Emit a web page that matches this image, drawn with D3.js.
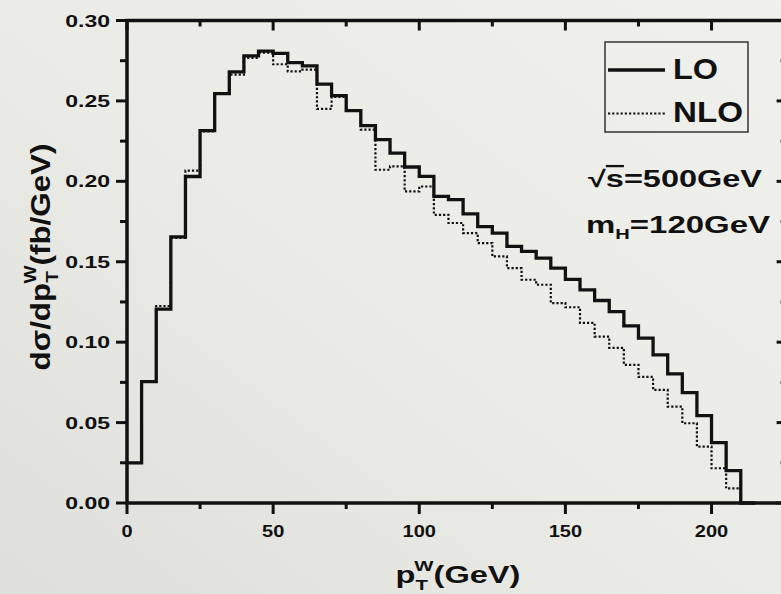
<!DOCTYPE html>
<html>
<head>
<meta charset="utf-8">
<script src="https://cdn.jsdelivr.net/npm/d3@7"></script>
<style>
  html, body { margin: 0; padding: 0; background: #ebebe5; }
  svg { display: block; }
  text { font-family: "Liberation Sans", Arial, sans-serif; font-weight: bold; fill: #111; }
</style>
</head>
<body>
<svg id="chart" width="781" height="594"></svg>
<script>
// ---------------- data ----------------
// lower bin edges (GeV), plus the final upper edge
const binEdges = [0,5,10,15,20,25,30,35,40,45,50,55,60,65,70,75,80,85,90,95,100,
  105,110,115,120,125,130,135,140,145,150,155,160,165,170,175,180,185,190,195,200,205,210,215];
const loValues = [0.025,0.0755,0.1205,0.1655,0.203,0.2315,0.2545,0.268,0.278,0.281,
  0.2795,0.2738,0.2718,0.2605,0.2533,0.244,0.2346,0.2259,0.2176,0.2089,
  0.2031,0.1906,0.1886,0.1798,0.1719,0.1678,0.1595,0.1564,0.1523,0.146,
  0.139,0.1325,0.1259,0.119,0.1101,0.1025,0.0921,0.0803,0.0686,0.0543,
  0.0375,0.0201,0];
const nloValues = [0.025,0.0755,0.1225,0.1648,0.2066,0.231,0.2545,0.2663,0.2767,0.28,
  0.2728,0.2684,0.2694,0.245,0.2525,0.244,0.2321,0.2072,0.2093,0.1937,
  0.1968,0.1792,0.1741,0.1678,0.1616,0.1533,0.146,0.1388,0.1357,0.1243,
  0.1217,0.112,0.1035,0.0965,0.0859,0.0784,0.0703,0.0599,0.0496,0.035,
  0.0216,0.0091,0];
const xMajorTicks = [0,50,100,150,200];
const xMinorTicks = [25,75,125,175];
const xTickLabels = ["0","50","100","150","200"];
const yMajorTicks = [0,0.05,0.10,0.15,0.20,0.25,0.30];
const yMinorTicks = [0.025,0.075,0.125,0.175,0.225,0.275];
const yTickLabels = ["0.00","0.05","0.10","0.15","0.20","0.25","0.30"];
const seriesNames = ["LO","NLO"];

// ---------------- layout ----------------
const svg = d3.select("#chart");
const x = d3.scaleLinear().domain([0,225]).range([127,784.6]);
const y = d3.scaleLinear().domain([0,0.30]).range([503,20.5]);
const ink = "#111";

// soft paper-like background
const defs = svg.append("defs");
const grad = defs.append("linearGradient").attr("id","bg")
  .attr("x1","1").attr("y1","0").attr("x2","0").attr("y2","1");
grad.append("stop").attr("offset","0%").attr("stop-color","#f0f0ec");
grad.append("stop").attr("offset","55%").attr("stop-color","#ebebe6");
grad.append("stop").attr("offset","100%").attr("stop-color","#dededa");
svg.append("rect").attr("width",781).attr("height",594).attr("fill","url(#bg)");

function fit(g, text, targetW){
  const w = text.node().getBBox().width;
  const base = g.attr("transform") || "";
  g.attr("transform", base + ` scale(${targetW / w},1)`);
}

// histograms
function stepPoints(vals){
  const pts = vals.map((v,i)=>[binEdges[i], v]);
  pts.push([binEdges[vals.length], vals[vals.length-1]]);
  return pts;
}
const line = d3.line().x(d=>x(d[0])).y(d=>y(d[1])).curve(d3.curveStepAfter);

svg.append("path").attr("d", line(stepPoints(nloValues)))
  .attr("fill","none").attr("stroke",ink).attr("stroke-width",2.2)
  .attr("stroke-dasharray","2.2,2");
svg.append("path").attr("d", line(stepPoints(loValues)))
  .attr("fill","none").attr("stroke",ink).attr("stroke-width",3.3)
  .attr("stroke-linejoin","miter");

const H = y(0), T = y(0.30), L = x(0), R = x(225);

// tick marks
const ticks = svg.append("g").attr("stroke",ink).attr("stroke-width",3);
function hTicks(vals, y0, len){
  ticks.selectAll(null).data(vals).join("line")
    .attr("x1",d=>x(d)).attr("x2",d=>x(d)).attr("y1",y0).attr("y2",y0+len);
}
function vTicks(vals, x0, len){
  ticks.selectAll(null).data(vals).join("line")
    .attr("y1",d=>y(d)).attr("y2",d=>y(d)).attr("x1",x0).attr("x2",x0+len);
}
hTicks(xMajorTicks, H, 11); hTicks(xMinorTicks, H, 6);
hTicks(xMajorTicks, T, 10); hTicks(xMinorTicks, T, 6);
vTicks(yMajorTicks, L, -11); vTicks(yMinorTicks, L, -7);
vTicks(yMajorTicks, R, -8); vTicks(yMinorTicks, R, -4);

// frame
svg.append("rect").attr("x",L).attr("y",T).attr("width",R-L).attr("height",H-T)
  .attr("fill","none").attr("stroke",ink).attr("stroke-width",3.5);

// tick labels
xMajorTicks.forEach((v,i)=>{
  const g = svg.append("g").attr("transform",`translate(${x(v)},537)`);
  const t = g.append("text").attr("text-anchor","middle").attr("font-size",16).text(xTickLabels[i]);
  fit(g, t, 11.2*xTickLabels[i].length);
});
yMajorTicks.forEach((v,i)=>{
  const g = svg.append("g").attr("transform",`translate(110,${y(v)+6})`);
  const t = g.append("text").attr("text-anchor","end").attr("font-size",16).text(yTickLabels[i]);
  fit(g, t, 45);
});

// x axis title
{
  const g = svg.append("g").attr("transform","translate(458,583)");
  const t = g.append("text").attr("text-anchor","middle").attr("font-size",24);
  t.append("tspan").text("p");
  t.append("tspan").attr("font-size",15).attr("dy",7).text("T");
  t.append("tspan").attr("font-size",15).attr("dx",-10).attr("dy",-19).text("W");
  t.append("tspan").attr("dy",12).text("(GeV)");
  fit(g, t, 125);
}
// y axis title
{
  const g = svg.append("g").attr("transform","translate(50,257) rotate(-90)");
  const t = g.append("text").attr("text-anchor","middle").attr("font-size",28);
  t.append("tspan").text("dσ/dp");
  t.append("tspan").attr("font-size",17).attr("dy",8).text("T");
  t.append("tspan").attr("font-size",17).attr("dx",-11).attr("dy",-22).text("W");
  t.append("tspan").attr("dy",14).text("(fb/GeV)");
  fit(g, t, 227);
}

// legend
svg.append("rect").attr("x",605).attr("y",42).attr("width",143).attr("height",90)
  .attr("fill","none").attr("stroke","#333").attr("stroke-width",1.5);
svg.append("line").attr("x1",608).attr("x2",665).attr("y1",70).attr("y2",70)
  .attr("stroke",ink).attr("stroke-width",3.3);
svg.append("line").attr("x1",608).attr("x2",665).attr("y1",113.5).attr("y2",113.5)
  .attr("stroke",ink).attr("stroke-width",2.2).attr("stroke-dasharray","2.2,2");
[[seriesNames[0],78.5,45],[seriesNames[1],121.7,70]].forEach(([s,by,w])=>{
  const g = svg.append("g").attr("transform",`translate(673,${by})`);
  const t = g.append("text").attr("font-size",30).text(s);
  fit(g, t, w);
});

// annotations
{
  const g = svg.append("g").attr("transform","translate(762,187)");
  const t = g.append("text").attr("text-anchor","end").attr("font-size",23);
  t.append("tspan").text("√");
  t.append("tspan").style("text-decoration","overline").text("s");
  t.append("tspan").text("=500GeV");
  fit(g, t, 175);
}
{
  const g = svg.append("g").attr("transform","translate(770,233)");
  const t = g.append("text").attr("text-anchor","end").attr("font-size",23);
  t.append("tspan").text("m");
  t.append("tspan").attr("font-size",14).attr("dy",6).text("H");
  t.append("tspan").attr("dy",-6).text("=120GeV");
  fit(g, t, 185);
}
</script>
</body>
</html>
